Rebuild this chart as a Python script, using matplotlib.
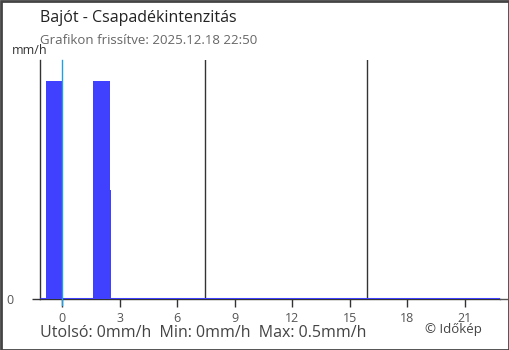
import matplotlib
matplotlib.use("Agg")
import matplotlib.pyplot as plt
from matplotlib.patches import Rectangle
from matplotlib.lines import Line2D

plt.rcParams['font.family'] = ['Open Sans', 'DejaVu Sans']

# Data (hours relative to now)
bar_start = [-0.83, -0.83, 1.63, 1.63]
bar_end = [0.05, -0.01, 2.56, 2.50]
bar_value = [0.25, 0.5, 0.25, 0.5]
x_ticks = [0, 3, 6, 9, 12, 15, 18, 21]
sun_lines = [7.46, 15.9]
now_hour = 0
x_range = [-1.15, 22.85]
y_max = 0.548

title = "Bajót - Csapadékintenzitás"
subtitle = "Grafikon frissítve: 2025.12.18 22:50"
footer = "Utolsó: 0mm/h  Min: 0mm/h  Max: 0.5mm/h"
credit = "© Időkép"

fig = plt.figure(figsize=(5.1, 3.5), dpi=100)
ax = fig.add_axes([40/510, 1-299/350, 460/510, 239/350])

bar_color = '#4040ff'
widths = [e - s for s, e in zip(bar_start, bar_end)]
ax.bar(bar_start, bar_value, width=widths, align='edge', color=bar_color,
       linewidth=0, zorder=2)
ax.plot(x_range, [0, 0], color=bar_color, lw=2.2, zorder=3, solid_capstyle='butt')

for s in sun_lines:
    ax.axvline(s, color='#333333', lw=1, zorder=1)
ax.axvline(now_hour, color='#1ea0e6', lw=1, zorder=4, ymin=-6/239, clip_on=False)

ax.set_xlim(*x_range)
ax.set_ylim(0, y_max)
ax.set_xticks(x_ticks)
ax.set_xticklabels([str(t) for t in x_ticks])
ax.set_yticks([0])
ax.set_yticklabels(['0'])
ax.tick_params(axis='both', colors='#333333', labelcolor='#555555', labelsize=9,
               length=6, width=1)
ax.tick_params(axis='x', pad=3)
ax.tick_params(axis='y', pad=13)
for sp in ['top', 'right']:
    ax.spines[sp].set_visible(False)
ax.spines['left'].set_color('#333333')
ax.spines['bottom'].set_color('#333333')
ax.spines['left'].set_linewidth(1)
ax.spines['bottom'].set_linewidth(1)

# extend x-axis line to figure edge
fig.add_artist(Line2D([500/510, 508/510], [1-299/350, 1-299/350], color='#555555', lw=1))

fig.text(40/510, 1-18/350, title, fontsize=11.5, color='#222222', va='center', ha='left')
fig.text(40/510, 1-41/350, subtitle, fontsize=9.5, color='#666666', va='center', ha='left')
fig.text(48/510, 1-51/350, "mm/h", fontsize=9, color='#333333', va='center', ha='right')
fig.text(40/510, 1-333/350, footer, fontsize=11.5, color='#444444', va='center', ha='left')
fig.text(482/510, 1-330/350, credit, fontsize=9.5, color='#444444', va='center', ha='right')

fig.add_artist(Rectangle((0.5/510, 0.5/350), 509/510, 349/350, transform=fig.transFigure,
                         fill=False, edgecolor='#444444', lw=2))

fig.savefig("out.png", dpi=100)
